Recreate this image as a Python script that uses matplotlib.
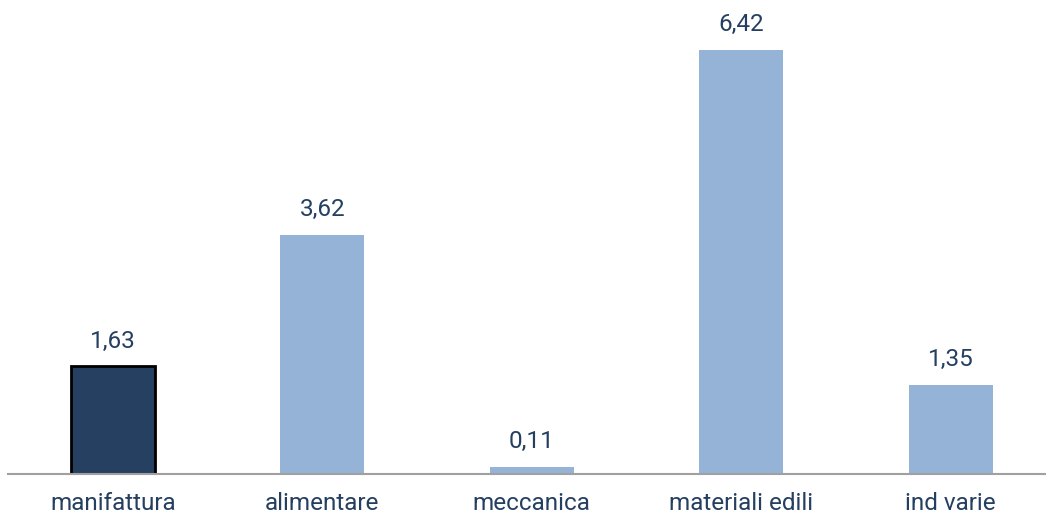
import matplotlib.pyplot as plt

settori = ["manifattura", "alimentare", "meccanica", "materiali edili", "ind varie"]
valori = [1.63, 3.62, 0.11, 6.42, 1.35]

testo = "#243F60"
scuro = "#264061"
chiaro = "#95B3D7"

plt.rcParams["font.family"] = ["Roboto", "DejaVu Sans"]

fig = plt.figure(figsize=(10.46, 5.17), dpi=100)
ax = fig.add_axes([8 / 1046, 43 / 517, 1047.5 / 1046, 474 / 517])

colori = [scuro] + [chiaro] * (len(valori) - 1)
bars = ax.bar(range(len(settori)), valori, width=0.4, color=colori)
bars[0].set_edgecolor("black")
bars[0].set_linewidth(2)

for b, v in zip(bars, valori):
    ax.annotate(f"{v:.2f}".replace(".", ","), xy=(b.get_x() + b.get_width() / 2, v),
                xytext=(0, 10), textcoords="offset points",
                ha="center", va="bottom", fontsize=17.5, color=testo)

ax.set_xlim(-0.5, len(settori) - 0.5)
ax.set_ylim(0, 7.18)
ax.set_xticks(range(len(settori)))
ax.set_xticklabels(settori, fontsize=17.5, color=testo)
ax.tick_params(axis="x", length=0, pad=13)
ax.set_yticks([])
for s in ["top", "right", "left"]:
    ax.spines[s].set_visible(False)
ax.spines["bottom"].set_color("#A0A0A0")
ax.spines["bottom"].set_linewidth(1.5)

fig.savefig("out.png", dpi=100)
